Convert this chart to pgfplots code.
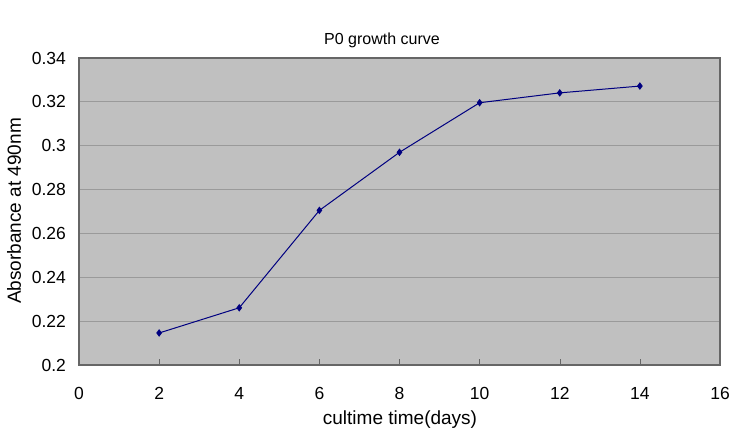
\documentclass[border=0pt]{standalone}
\usepackage{fontspec}
\setmainfont{Liberation Sans}
\usepackage{pgfplots}
\pgfplotsset{compat=1.18}
\definecolor{bg}{HTML}{C0C0C0}
\definecolor{gridc}{HTML}{9A9A9A}
\definecolor{navy}{HTML}{000080}
\begin{document}
\begin{tikzpicture}
\path[use as bounding box] (-39.5pt,-35.5pt) rectangle (327pt,182.5pt);
\begin{axis}[
  at={(0,0)}, anchor=south west,
  scale only axis, width=320.5pt, height=153.5pt,
  xmin=0, xmax=16, ymin=0.2, ymax=0.34,
  xtick={0,2,...,16}, ytick={0.2,0.22,...,0.341},
  yticklabels={0.2,0.22,0.24,0.26,0.28,0.3,0.32,0.34},
  scaled y ticks=false,
  axis background/.style={fill=bg},
  ymajorgrids, grid style={gridc, line width=0.5pt},
  axis line style={gray!80!black, line width=0.6pt},
  tick style={gray!80!black},
  xtick pos=bottom, ytick pos=left,
  tick align=inside, major tick length=3pt,
  ytick style={draw=none},
  tick label style={font=\fontsize{8.75}{10}\selectfont},
  /pgf/number format/assume math mode=true,
  xticklabel style={yshift=-7.5pt},
  yticklabel style={xshift=-3pt},
]
\addplot[navy, line width=0.5pt, mark=diamond*, mark size=1.5pt, mark options={fill=navy}]
coordinates {(2,0.2146) (4,0.2261) (6,0.2705) (8,0.2970) (10,0.3196) (12,0.3241) (14,0.3272)};
\end{axis}
\node[font=\fontsize{8}{9}\selectfont] at (151.5pt,162.5pt) {P0 growth curve};
\node[font=\fontsize{9.5}{11}\selectfont, rotate=90] at (-32.5pt,77pt) {Absorbance at 490nm};
\node[font=\fontsize{9.5}{11}\selectfont] at (160.5pt,-27.5pt) {cultime time(days)};
\end{tikzpicture}
\end{document}
